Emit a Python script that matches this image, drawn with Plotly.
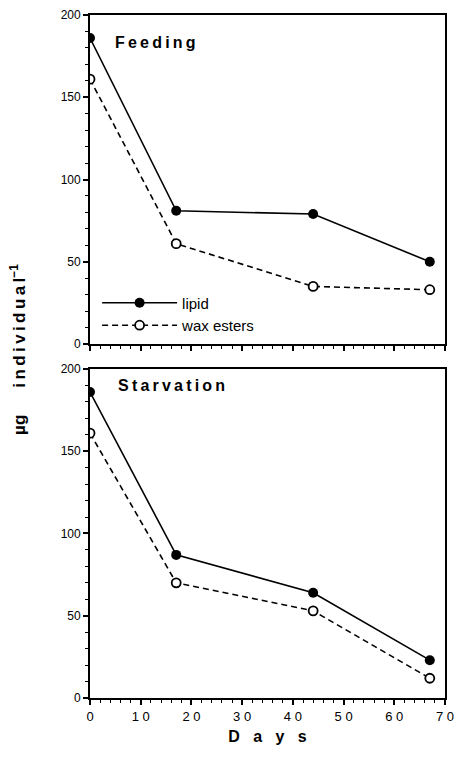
import plotly.graph_objects as go
from plotly.subplots import make_subplots

days = [0, 17, 44, 67]
feed_lipid = [186, 81, 79, 50]
feed_wax = [161, 61, 35, 33]
starv_lipid = [186, 87, 64, 23]
starv_wax = [161, 70, 53, 12]

xtick_vals = [0, 10, 20, 30, 40, 50, 60, 70]
xtick_text = ["0", "1 0", "2 0", "3 0", "4 0", "5 0", "6 0", "7 0"]
ytick_vals = [0, 50, 100, 150, 200]
ytick_text = ["0", "50", "100", "150", "200"]

FONT = "Liberation Sans, Arial, Helvetica, sans-serif"

fig = make_subplots(rows=2, cols=1, shared_xaxes=False, vertical_spacing=0.0366)

def add_panel(row, lipid, wax, show_legend):
    fig.add_trace(go.Scatter(
        x=days, y=lipid, mode="lines+markers", name="lipid",
        line=dict(color="black", width=1.6),
        marker=dict(symbol="circle", size=10, color="black"),
        showlegend=show_legend), row=row, col=1)
    fig.add_trace(go.Scatter(
        x=days, y=wax, mode="lines+markers", name="wax esters",
        line=dict(color="black", width=1.6, dash="6px,4px"),
        marker=dict(symbol="circle", size=9, color="white",
                    line=dict(color="black", width=1.8)),
        showlegend=show_legend), row=row, col=1)

add_panel(1, feed_lipid, feed_wax, True)
add_panel(2, starv_lipid, starv_wax, False)

for r in (1, 2):
    fig.update_xaxes(
        range=[0, 70], tickvals=xtick_vals, ticktext=xtick_text,
        showticklabels=(r == 2), ticks="outside", ticklen=5, tickwidth=1.5,
        minor=dict(dtick=2, ticks="outside", ticklen=3, tickwidth=1.2, tickcolor="black"),
        showline=True, linecolor="black", linewidth=1.8, mirror=True,
        showgrid=False, zeroline=False, tickcolor="black",
        tickfont=dict(family=FONT, size=13, color="black"),
        row=r, col=1)
    fig.update_yaxes(
        range=[0, 200], tickvals=ytick_vals, ticktext=ytick_text,
        ticks="outside", ticklen=5, tickwidth=1.5, tickcolor="black",
        minor=dict(dtick=10, ticks="outside", ticklen=3, tickwidth=1.2, tickcolor="black"),
        showline=True, linecolor="black", linewidth=1.8, mirror=True,
        showgrid=False, zeroline=False,
        tickfont=dict(family=FONT, size=12, color="black"),
        row=r, col=1)

fig.update_xaxes(title=dict(text="<b>D   a   y   s</b>", font=dict(family=FONT, size=16, color="black"), standoff=8), row=2, col=1)

fig.add_annotation(text="<b>F e e d i n g</b>".replace(" ", "\u2009"), xref="x", yref="y", x=4.6, y=183,
                   xanchor="left", yanchor="middle", showarrow=False,
                   font=dict(family=FONT, size=16, color="black"))
fig.add_annotation(text="<b>S t a r v a t i o n</b>".replace(" ", "\u2009"), xref="x2", yref="y2", x=5.2, y=190,
                   xanchor="left", yanchor="middle", showarrow=False,
                   font=dict(family=FONT, size=16, color="black"))
fig.add_annotation(text="<b>\u00b5g      i n d i v i d u a l<sup>\u22121</sup></b>".replace("i n", "i\u2009n").replace(" d", "\u2009d").replace(" i", "\u2009i").replace(" v", "\u2009v").replace(" u", "\u2009u").replace(" a", "\u2009a").replace(" l", "\u2009l"),
                   xref="paper", yref="paper",
                   x=-0.205, y=0.51, xanchor="center", yanchor="middle", textangle=-90,
                   showarrow=False, font=dict(family=FONT, size=17, color="black"))

fig.update_layout(
    width=462, height=758,
    margin=dict(l=90, r=8, t=15, b=60),
    plot_bgcolor="white", paper_bgcolor="white",
    legend=dict(x=0.02, y=0.522, xanchor="left", yanchor="bottom",
                yref="paper", bgcolor="rgba(0,0,0,0)",
                font=dict(family=FONT, size=15, color="black"),
                itemwidth=75, tracegroupgap=0),
    font=dict(family=FONT, color="black"),
)

fig.write_html("out.html")
